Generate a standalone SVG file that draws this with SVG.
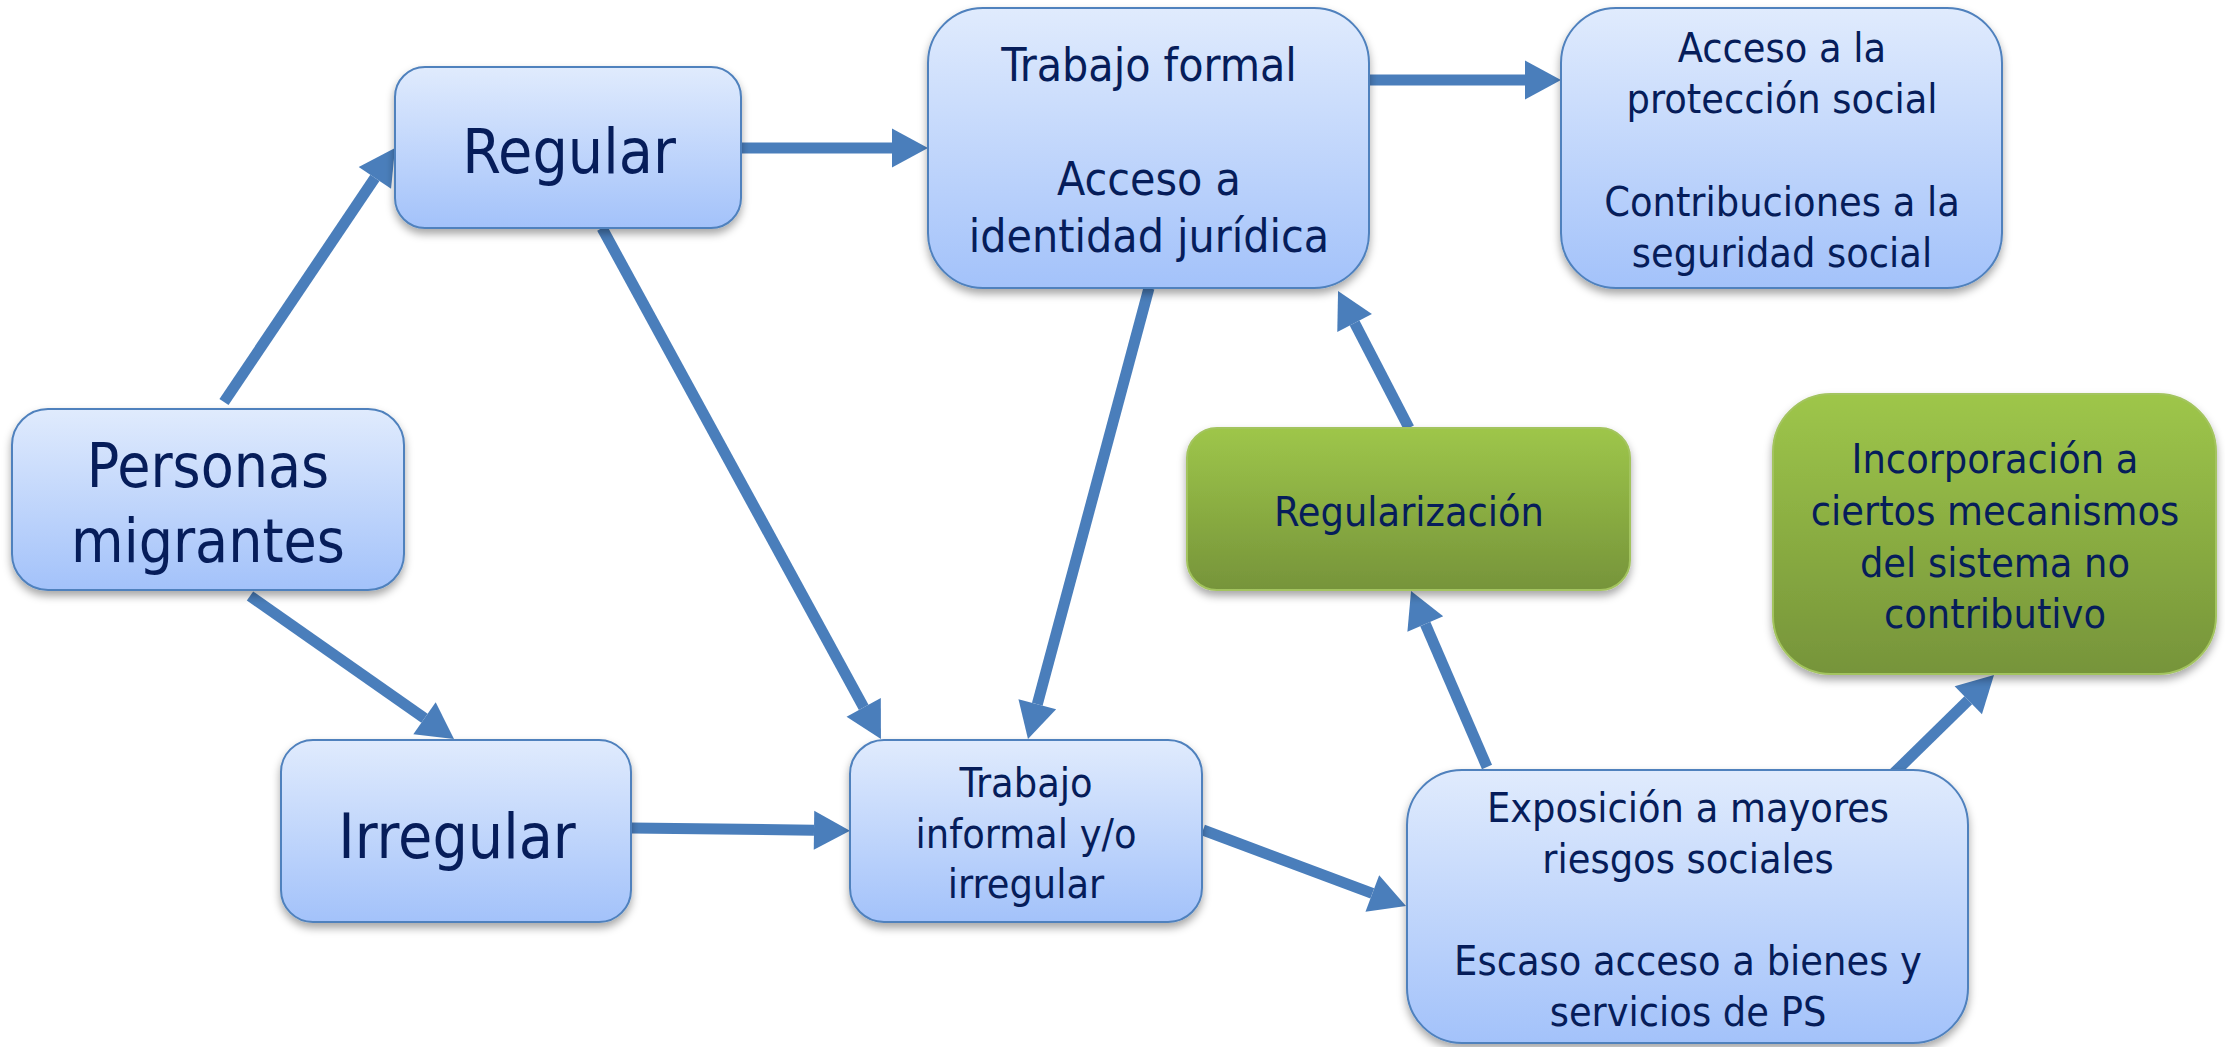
<svg xmlns="http://www.w3.org/2000/svg" width="2225" height="1047" viewBox="0 0 2225 1047">
<defs>
<linearGradient id="gb" x1="0" y1="0" x2="0" y2="1"><stop offset="0" stop-color="#e0ebfd"/><stop offset="1" stop-color="#a3c2fa"/></linearGradient>
<linearGradient id="gg" x1="0" y1="0" x2="0" y2="1"><stop offset="0" stop-color="#9ec64a"/><stop offset="1" stop-color="#76943a"/></linearGradient>
<filter id="sh" x="-10%" y="-10%" width="120%" height="130%"><feDropShadow dx="0" dy="5" stdDeviation="4" flood-color="#000" flood-opacity="0.35"/></filter>
<marker id="ah" markerUnits="userSpaceOnUse" markerWidth="40" markerHeight="42" viewBox="0 -21 37 42" refX="0" refY="0" orient="auto"><path d="M0,-19.5 L36,0 L0,19.5 Z" fill="#4a7ebb"/></marker>
</defs>
<style>
.b{fill:url(#gb);stroke:#4f81bd;stroke-width:2;filter:url(#sh)}
.g{fill:url(#gg);stroke:#a3c45e;stroke-width:2;filter:url(#sh)}
text{font-family:"DejaVu Sans Condensed","DejaVu Sans",sans-serif;font-stretch:condensed;fill:#061d5a;text-anchor:middle}
.c line{stroke:#4a7ebb;stroke-width:11;marker-end:url(#ah)}
</style>
<rect width="2225" height="1047" fill="#fff"/>
<g class="c" id="connectors">
<line x1="224" y1="402" x2="374.9" y2="177.9"/>
<line x1="250" y1="596" x2="424.5" y2="718.3"/>
<line x1="741" y1="148" x2="892" y2="148"/>
<line x1="602" y1="228" x2="863.7" y2="707.4"/>
<line x1="1149" y1="288" x2="1037.3" y2="704.2"/>
<line x1="631" y1="828" x2="814" y2="830.2"/>
<line x1="1369" y1="80" x2="1525" y2="80"/>
<line x1="1203" y1="830" x2="1372.3" y2="893.4"/>
<line x1="1487" y1="767" x2="1425.3" y2="624"/>
<line x1="1409" y1="428" x2="1354.6" y2="323"/>
<line x1="1893" y1="774" x2="1968.3" y2="700.2"/>
</g>
<g id="n-personas"><rect class="b" x="12" y="409" width="392" height="181" rx="36"/>
<text x="208" y="487" font-size="60">Personas</text><text x="208" y="562" font-size="60">migrantes</text></g>
<g id="n-regular"><rect class="b" x="395" y="67" width="346" height="161" rx="30"/>
<text x="569" y="173" font-size="62">Regular</text></g>
<g id="n-irregular"><rect class="b" x="281" y="740" width="350" height="182" rx="32"/>
<text x="457" y="858" font-size="62">Irregular</text></g>
<g id="n-formal"><rect class="b" x="928" y="8" width="441" height="280" rx="55"/>
<text x="1149" y="81" font-size="46">Trabajo formal</text>
<text x="1149" y="195" font-size="46">Acceso a</text>
<text x="1149" y="252" font-size="46">identidad jurídica</text></g>
<g id="n-acceso"><rect class="b" x="1561" y="8" width="441" height="280" rx="55"/>
<text x="1782" y="62" font-size="41">Acceso a la</text>
<text x="1782" y="113" font-size="41">protección social</text>
<text x="1782" y="216" font-size="41">Contribuciones a la</text>
<text x="1782" y="267" font-size="41">seguridad social</text></g>
<g id="n-regularizacion"><rect class="g" x="1187" y="428" width="443" height="162" rx="30"/>
<text x="1409" y="526" font-size="41">Regularización</text></g>
<g id="n-incorporacion"><rect class="g" x="1773" y="394" width="443" height="280" rx="58"/>
<text x="1995" y="473" font-size="41">Incorporación a</text>
<text x="1995" y="525" font-size="41">ciertos mecanismos</text>
<text x="1995" y="577" font-size="41">del sistema no</text>
<text x="1995" y="628" font-size="41">contributivo</text></g>
<g id="n-informal"><rect class="b" x="850" y="740" width="352" height="182" rx="34"/>
<text x="1026" y="797" font-size="41">Trabajo</text>
<text x="1026" y="848" font-size="41">informal y/o</text>
<text x="1026" y="898" font-size="41">irregular</text></g>
<g id="n-exposicion"><rect class="b" x="1407" y="770" width="561" height="273" rx="55"/>
<text x="1688" y="822" font-size="41">Exposición a mayores</text>
<text x="1688" y="873" font-size="41">riesgos sociales</text>
<text x="1688" y="975" font-size="41">Escaso acceso a bienes y</text>
<text x="1688" y="1026" font-size="41">servicios de PS</text></g>
</svg>
